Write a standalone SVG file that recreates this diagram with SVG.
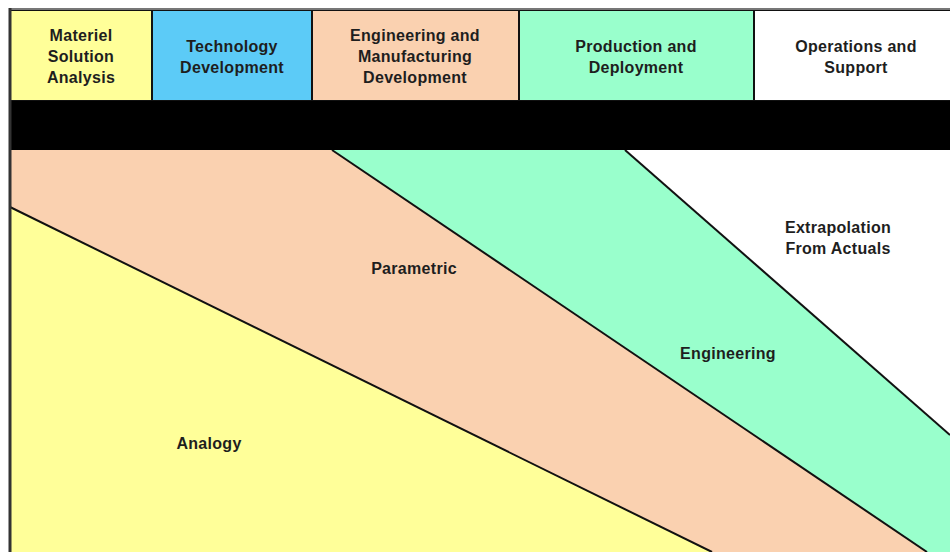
<svg xmlns="http://www.w3.org/2000/svg" width="950" height="552" viewBox="0 0 950 552">
<style>
text{font-family:"Liberation Sans",Arial,sans-serif;font-weight:bold;font-size:16px;fill:#1e1e1e;text-anchor:middle;letter-spacing:0.3px}
.cell{stroke:#111;stroke-width:2}
.edge{stroke:#111;stroke-width:2;fill:none}
</style>
<rect x="0" y="0" width="950" height="552" fill="#ffffff"/>
<g id="regions">
<polygon id="region-parametric" points="10,150 332,150 927,552 712,552 10,207" fill="#FAD1B0"/>
<polygon id="region-engineering" points="332,150 625,150 950,435 950,552 927,552" fill="#99FFCC"/>
<polygon id="region-analogy" points="10,207 712,552 10,552" fill="#FFFF99"/>
</g>
<g id="connectors">
<line class="edge" x1="10" y1="207" x2="712" y2="552"/>
<line class="edge" x1="332" y1="150" x2="927" y2="552"/>
<line class="edge" x1="625" y1="150" x2="950" y2="435"/>
</g>
<g id="header">
<g id="phase-msa"><rect class="cell" x="10" y="10" width="142" height="91" fill="#FFFF99"/>
<text x="81" y="41">Materiel</text><text x="81" y="62">Solution</text><text x="81" y="83">Analysis</text></g>
<g id="phase-td"><rect class="cell" x="152" y="10" width="160" height="91" fill="#5CCBF7"/>
<text x="232" y="52">Technology</text><text x="232" y="73">Development</text></g>
<g id="phase-emd"><rect class="cell" x="312" y="10" width="207" height="91" fill="#FAD1B0"/>
<text x="415" y="41">Engineering and</text><text x="415" y="62">Manufacturing</text><text x="415" y="83">Development</text></g>
<g id="phase-pd"><rect class="cell" x="519" y="10" width="235" height="91" fill="#99FFCC"/>
<text x="636" y="52">Production and</text><text x="636" y="73">Deployment</text></g>
<g id="phase-os"><rect class="cell" x="754" y="10" width="200" height="91" fill="#ffffff"/>
<text x="856" y="52">Operations and</text><text x="856" y="73">Support</text></g>
</g>
<rect id="band" x="10" y="101" width="940" height="49" fill="#000"/>
<line x1="10" y1="9" x2="950" y2="9" stroke="#777" stroke-width="2"/>
<line x1="10" y1="8" x2="10" y2="552" stroke="#333" stroke-width="3"/>
<g id="labels">
<g id="label-extrapolation"><text x="838" y="233">Extrapolation</text><text x="838" y="254">From Actuals</text></g>
<g id="label-parametric"><text x="414" y="274">Parametric</text></g>
<g id="label-engineering"><text x="728" y="359">Engineering</text></g>
<g id="label-analogy"><text x="209" y="449">Analogy</text></g>
</g>
</svg>
